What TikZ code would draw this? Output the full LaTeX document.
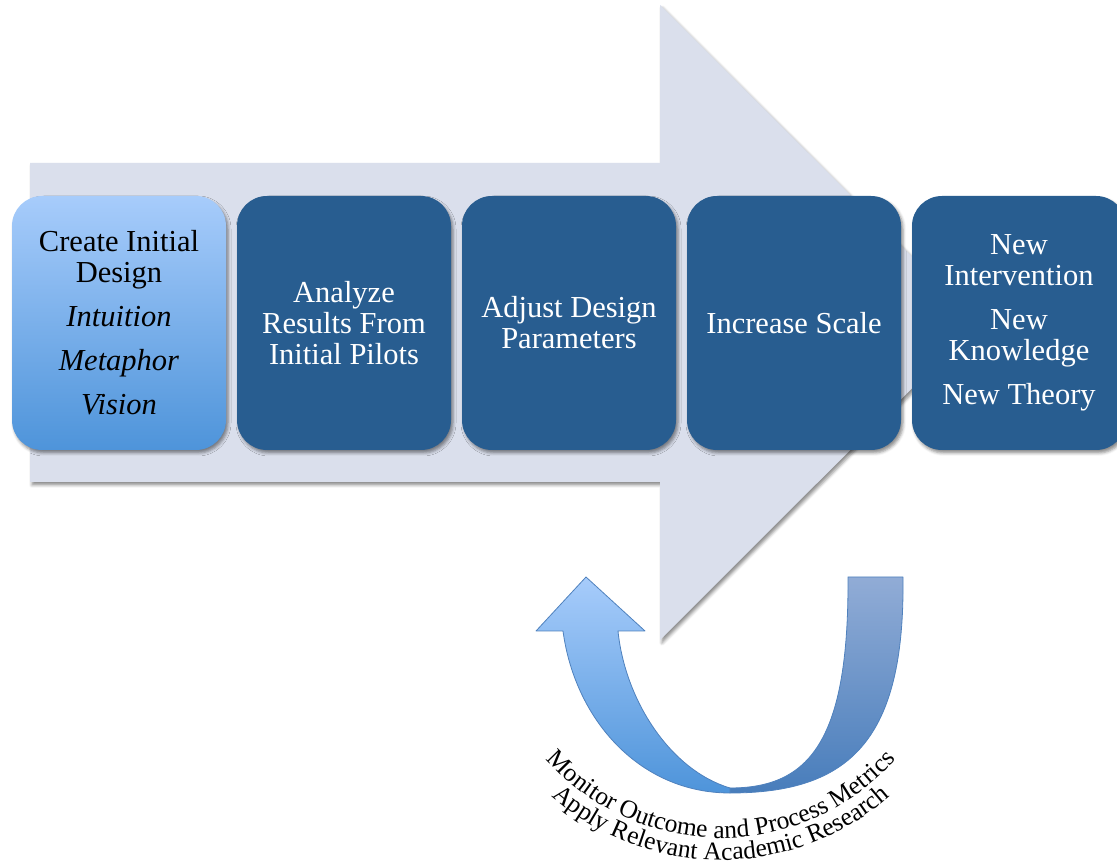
\documentclass[tikz,border=0pt]{standalone}
\usepackage{fontspec}
\setmainfont{Liberation Serif}
\usetikzlibrary{shadows.blur,decorations.text}

\definecolor{arrowgrey}{RGB}{218,223,236}
\definecolor{boxblue}{RGB}{40,93,144}
\definecolor{lighttop}{RGB}{167,204,251}
\definecolor{lightbot}{RGB}{78,148,218}
\definecolor{bandtop}{RGB}{145,172,214}
\definecolor{bandbot}{RGB}{72,125,187}
\definecolor{bandline}{RGB}{79,129,189}

\newcommand\loopfont{\fontsize{25.5}{25.5}\selectfont}

\begin{document}
\begin{tikzpicture}[x=1pt,y=1pt,
  softshadow/.style={blur shadow={shadow xshift=2pt, shadow yshift=-3pt,
      shadow blur radius=3pt, shadow opacity=45}},
  stage/.style={rounded corners=30pt, minimum width=214pt, minimum height=254pt,
      inner sep=0pt, align=center, font=\fontsize{30.5}{31}\selectfont, softshadow},
  darkstage/.style={stage, fill=boxblue, text=white},
  lightstage/.style={stage, top color=lighttop, bottom color=lightbot, text=black},
  band/.style={draw=bandline, line width=0.8pt, line join=round},
  looptext/.style={decorate, decoration={text along path, text align=center,
      text color=black, text={|\loopfont|#1}}}
]
\useasboundingbox (0,0) rectangle (1117,865);
\clip (0,0) rectangle (1117,865);

% large background arrow
\fill[arrowgrey, softshadow]
  (30,702) -- (660,702) -- (660,860) -- (978,542.5) -- (660,225)
  -- (660,383) -- (30,383) -- cycle;

% process stages
\node[lightstage] (s1) at (119,542)
  {Create Initial\\Design\\[13pt]\textit{Intuition}\\[13pt]\textit{Metaphor}\\[13pt]\textit{Vision}};
\node[darkstage] (s2) at (344,542) {Analyze\\Results From\\Initial Pilots};
\node[darkstage] (s3) at (569,542) {Adjust Design\\Parameters};
\node[darkstage] (s4) at (794,542) {Increase Scale};
\node[darkstage] (s5) at (1019,542)
  {New\\Intervention\\[13pt]New\\Knowledge\\[13pt]New Theory};

% feedback loop: right band
\path[band, top color=bandtop, bottom color=bandbot]
  (848,288) -- (903,288)
  .. controls (905,125) and (850,72) .. (730,72)
  -- (730,77)
  .. controls (810,77) and (849,125) .. (848,288) -- cycle;

% feedback loop: left band with arrow head
\path[band, top color=lighttop, bottom color=lightbot]
  (586,288) -- (645,234) -- (618,234)
  .. controls (625,165) and (670,95) .. (730,77)
  -- (730,72)
  .. controls (640,72) and (575,145) .. (563,234)
  -- (536,234) -- cycle;

% curved captions under the loop
\path[looptext={Monitor Outcome and Process Metrics}]
  (721,261) ++(200:234) arc[start angle=200, end angle=340, radius=234];
\path[looptext={Apply Relevant Academic Research}]
  (721,261) ++(200:256) arc[start angle=200, end angle=340, radius=256];
\end{tikzpicture}
\end{document}
